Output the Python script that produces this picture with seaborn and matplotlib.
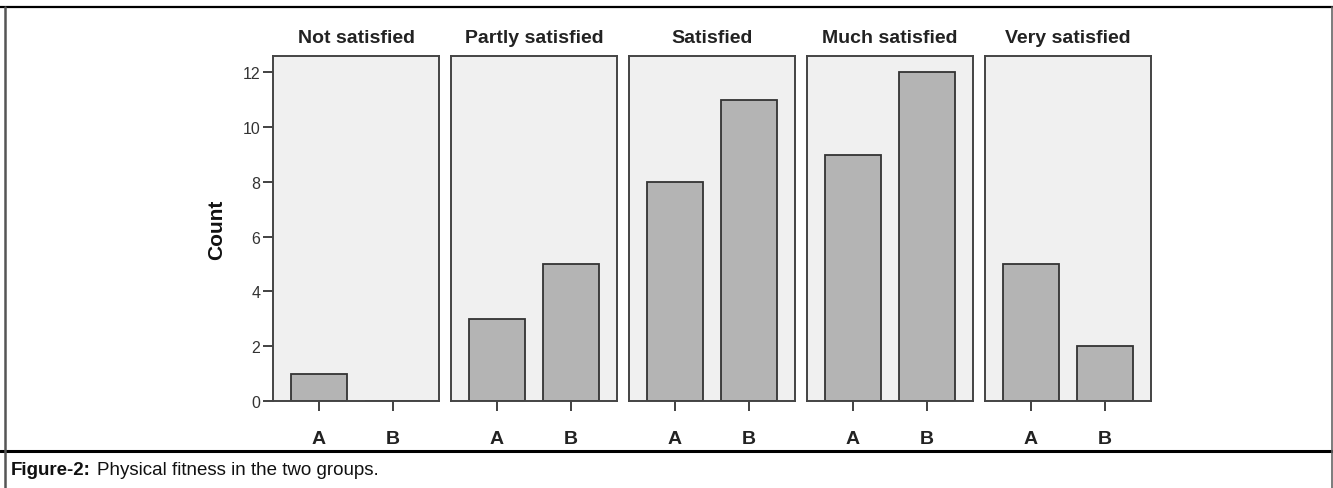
import matplotlib
matplotlib.use("Agg")
import matplotlib.pyplot as plt
from matplotlib.lines import Line2D
import seaborn as sns
import pandas as pd

categories = ["Not satisfied", "Partly satisfied", "Satisfied", "Much satisfied", "Very satisfied"]
groups = ["A", "B"]
counts_A = [1, 3, 8, 9, 5]
counts_B = [0, 5, 11, 12, 2]
y_ticks = [0, 2, 4, 6, 8, 10, 12]
caption_bold = "Figure-2:"
caption_text = "Physical fitness in the two groups."

rows = []
for c, a, b in zip(categories, counts_A, counts_B):
    rows.append({"category": c, "group": "A", "count": a})
    rows.append({"category": c, "group": "B", "count": b})
df = pd.DataFrame(rows)

sns.set_theme(style="white")
plt.rcParams["font.family"] = ["Liberation Sans", "DejaVu Sans"]

W, H = 1333, 489
fig = plt.figure(figsize=(W / 100, H / 100), dpi=100)

def fx(px):
    return px / W

def fy(py):
    return 1 - py / H

panel_left = 273
panel_w = 166
pitch = 178
top, bottom = 57, 402

for i, cat in enumerate(categories):
    x0 = panel_left + i * pitch
    ax = fig.add_axes([fx(x0), fy(bottom), panel_w / W, (bottom - top) / H])
    sub = df[df["category"] == cat]
    sns.barplot(data=sub, x="group", y="count", order=groups, color="#b4b4b4",
                saturation=1, edgecolor="#333333", linewidth=1.3, width=0.76,
                ax=ax, errorbar=None)
    ax.set_facecolor("#f0f0f0")
    ax.set_xlim(-0.62, 1.62)
    ax.set_ylim(0, 12.6)
    for s in ax.spines.values():
        s.set_visible(True)
        s.set_color("#444444")
        s.set_linewidth(1.4)
    ax.set_title(cat, fontsize=14, fontweight="bold", color="#222222", pad=10)
    ax.set_xlabel("")
    ax.tick_params(axis="x", length=7, width=1.3, color="#333333", pad=14,
                   labelsize=14, bottom=True, direction="out")
    for lab in ax.get_xticklabels():
        lab.set_fontweight("bold")
        lab.set_color("#222222")
    if i == 0:
        ax.set_yticks(y_ticks)
        ax.tick_params(axis="y", length=7, width=1.3, color="#333333", pad=2,
                       labelsize=11.5, left=True, direction="out",
                       labelcolor="#333333")
        ax.set_ylabel("Count", fontsize=15, fontweight="bold", color="#111111",
                      labelpad=12)
    else:
        ax.set_yticks([])
        ax.set_ylabel("")

# frame lines
fig.add_artist(Line2D([0, 1], [fy(7.5), fy(7.5)], transform=fig.transFigure,
                      color="black", linewidth=1.6))
fig.add_artist(Line2D([0, 1], [fy(452), fy(452)], transform=fig.transFigure,
                      color="black", linewidth=2.2))
fig.add_artist(Line2D([fx(4.5), fx(4.5)], [fy(7.5), 0], transform=fig.transFigure,
                      color="#555555", linewidth=1.8))
fig.add_artist(Line2D([fx(1331.5), fx(1331.5)], [fy(7.5), 0], transform=fig.transFigure,
                      color="#666666", linewidth=1.2))

cap = fig.text(fx(11), fy(471), caption_bold, fontsize=13.5, fontweight="bold",
               va="center", ha="left", color="#111111")
fig.canvas.draw()
bb = cap.get_window_extent()
fig.text(bb.x1 / W + fx(6), fy(471), caption_text, fontsize=13.5,
         va="center", ha="left", color="#111111")

fig.savefig("out.png", dpi=100)
